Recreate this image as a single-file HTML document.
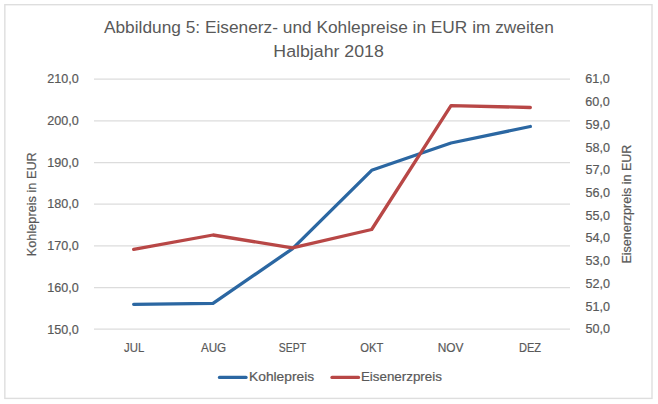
<!DOCTYPE html>
<html>
<head>
<meta charset="utf-8">
<style>
html,body{margin:0;padding:0;background:#fff;}
body{width:658px;height:404px;overflow:hidden;}
svg{display:block;}
text{font-family:"Liberation Sans",sans-serif;fill:#595959;stroke:#595959;stroke-width:0.2px;}
text.t{stroke-width:0;}
</style>
</head>
<body>
<svg width="658" height="404" viewBox="0 0 658 404">
<rect x="0" y="0" width="658" height="404" fill="#ffffff"/>
<rect x="4.85" y="4.7" width="647.15" height="393.7" fill="none" stroke="#dedede" stroke-width="1.4"/>
<text x="103.97" y="33.00" font-size="17.1" textLength="449.86" lengthAdjust="spacingAndGlyphs" class="t">Abbildung 5: Eisenerz- und Kohlepreise in EUR im zweiten</text>
<text x="273.35" y="56.90" font-size="17.1" textLength="110.48" lengthAdjust="spacingAndGlyphs" class="t">Halbjahr 2018</text>
<g stroke="#dcdcdc" stroke-width="1.3">
<line x1="94" y1="79.20" x2="570" y2="79.20"/>
<line x1="94" y1="120.87" x2="570" y2="120.87"/>
<line x1="94" y1="162.53" x2="570" y2="162.53"/>
<line x1="94" y1="204.20" x2="570" y2="204.20"/>
<line x1="94" y1="245.87" x2="570" y2="245.87"/>
<line x1="94" y1="287.53" x2="570" y2="287.53"/>
<line x1="94" y1="329.20" x2="570" y2="329.20"/>
</g>
<text x="47.27" y="83.00" font-size="12.8" textLength="31.53" lengthAdjust="spacingAndGlyphs">210,0</text>
<text x="47.27" y="124.78" font-size="12.8" textLength="31.53" lengthAdjust="spacingAndGlyphs">200,0</text>
<text x="47.27" y="166.57" font-size="12.8" textLength="31.53" lengthAdjust="spacingAndGlyphs">190,0</text>
<text x="47.27" y="208.35" font-size="12.8" textLength="31.53" lengthAdjust="spacingAndGlyphs">180,0</text>
<text x="47.27" y="250.13" font-size="12.8" textLength="31.53" lengthAdjust="spacingAndGlyphs">170,0</text>
<text x="47.27" y="291.92" font-size="12.8" textLength="31.53" lengthAdjust="spacingAndGlyphs">160,0</text>
<text x="47.27" y="333.70" font-size="12.8" textLength="31.53" lengthAdjust="spacingAndGlyphs">150,0</text>
<text x="585.26" y="83.40" font-size="12.8" textLength="24.54" lengthAdjust="spacingAndGlyphs">61,0</text>
<text x="585.26" y="106.12" font-size="12.8" textLength="24.54" lengthAdjust="spacingAndGlyphs">60,0</text>
<text x="585.40" y="128.84" font-size="12.8" textLength="24.54" lengthAdjust="spacingAndGlyphs">59,0</text>
<text x="585.40" y="151.55" font-size="12.8" textLength="24.54" lengthAdjust="spacingAndGlyphs">58,0</text>
<text x="585.40" y="174.27" font-size="12.8" textLength="24.54" lengthAdjust="spacingAndGlyphs">57,0</text>
<text x="585.40" y="196.99" font-size="12.8" textLength="24.54" lengthAdjust="spacingAndGlyphs">56,0</text>
<text x="585.40" y="219.71" font-size="12.8" textLength="24.54" lengthAdjust="spacingAndGlyphs">55,0</text>
<text x="585.40" y="242.43" font-size="12.8" textLength="24.54" lengthAdjust="spacingAndGlyphs">54,0</text>
<text x="585.40" y="265.15" font-size="12.8" textLength="24.54" lengthAdjust="spacingAndGlyphs">53,0</text>
<text x="585.40" y="287.86" font-size="12.8" textLength="24.54" lengthAdjust="spacingAndGlyphs">52,0</text>
<text x="585.40" y="310.58" font-size="12.8" textLength="24.54" lengthAdjust="spacingAndGlyphs">51,0</text>
<text x="585.40" y="333.30" font-size="12.8" textLength="24.54" lengthAdjust="spacingAndGlyphs">50,0</text>
<text x="124.12" y="351.60" font-size="12.9" textLength="20.26" lengthAdjust="spacingAndGlyphs">JUL</text>
<text x="200.88" y="351.60" font-size="12.9" textLength="25.30" lengthAdjust="spacingAndGlyphs">AUG</text>
<text x="278.82" y="351.60" font-size="12.9" textLength="27.32" lengthAdjust="spacingAndGlyphs">SEPT</text>
<text x="360.17" y="351.60" font-size="12.9" textLength="23.08" lengthAdjust="spacingAndGlyphs">OKT</text>
<text x="437.72" y="351.60" font-size="12.9" textLength="25.84" lengthAdjust="spacingAndGlyphs">NOV</text>
<text x="518.99" y="351.60" font-size="12.9" textLength="22.15" lengthAdjust="spacingAndGlyphs">DEZ</text>
<text transform="translate(35.80,255.20) rotate(-90)" x="-1.04" y="0" font-size="12.9" textLength="104.05" lengthAdjust="spacingAndGlyphs">Kohlepreis in EUR</text>
<text transform="translate(630.90,262.60) rotate(-90)" x="-1.03" y="0" font-size="12.9" textLength="118.92" lengthAdjust="spacingAndGlyphs">Eisenerzpreis in EUR</text>
<polyline fill="none" stroke="#2b67a2" stroke-width="3.3" stroke-linecap="round" stroke-linejoin="round" points="133.67,304.30 213.00,303.30 292.33,248.80 371.67,170.30 451.00,143.00 530.33,126.50"/>
<polyline fill="none" stroke="#b84746" stroke-width="3.3" stroke-linecap="round" stroke-linejoin="round" points="133.67,249.40 213.00,235.00 292.33,247.90 371.67,229.50 451.00,105.60 530.33,107.50"/>
<line x1="219.5" y1="377.4" x2="246" y2="377.4" stroke="#2b67a2" stroke-width="3.3" stroke-linecap="round"/>
<line x1="332" y1="377.4" x2="358.5" y2="377.4" stroke="#b84746" stroke-width="3.3" stroke-linecap="round"/>
<text x="249.07" y="381.20" font-size="13.0" textLength="65.03" lengthAdjust="spacingAndGlyphs">Kohlepreis</text>
<text x="360.90" y="381.20" font-size="13.0" textLength="80.98" lengthAdjust="spacingAndGlyphs">Eisenerzpreis</text>
</svg>
</body>
</html>
